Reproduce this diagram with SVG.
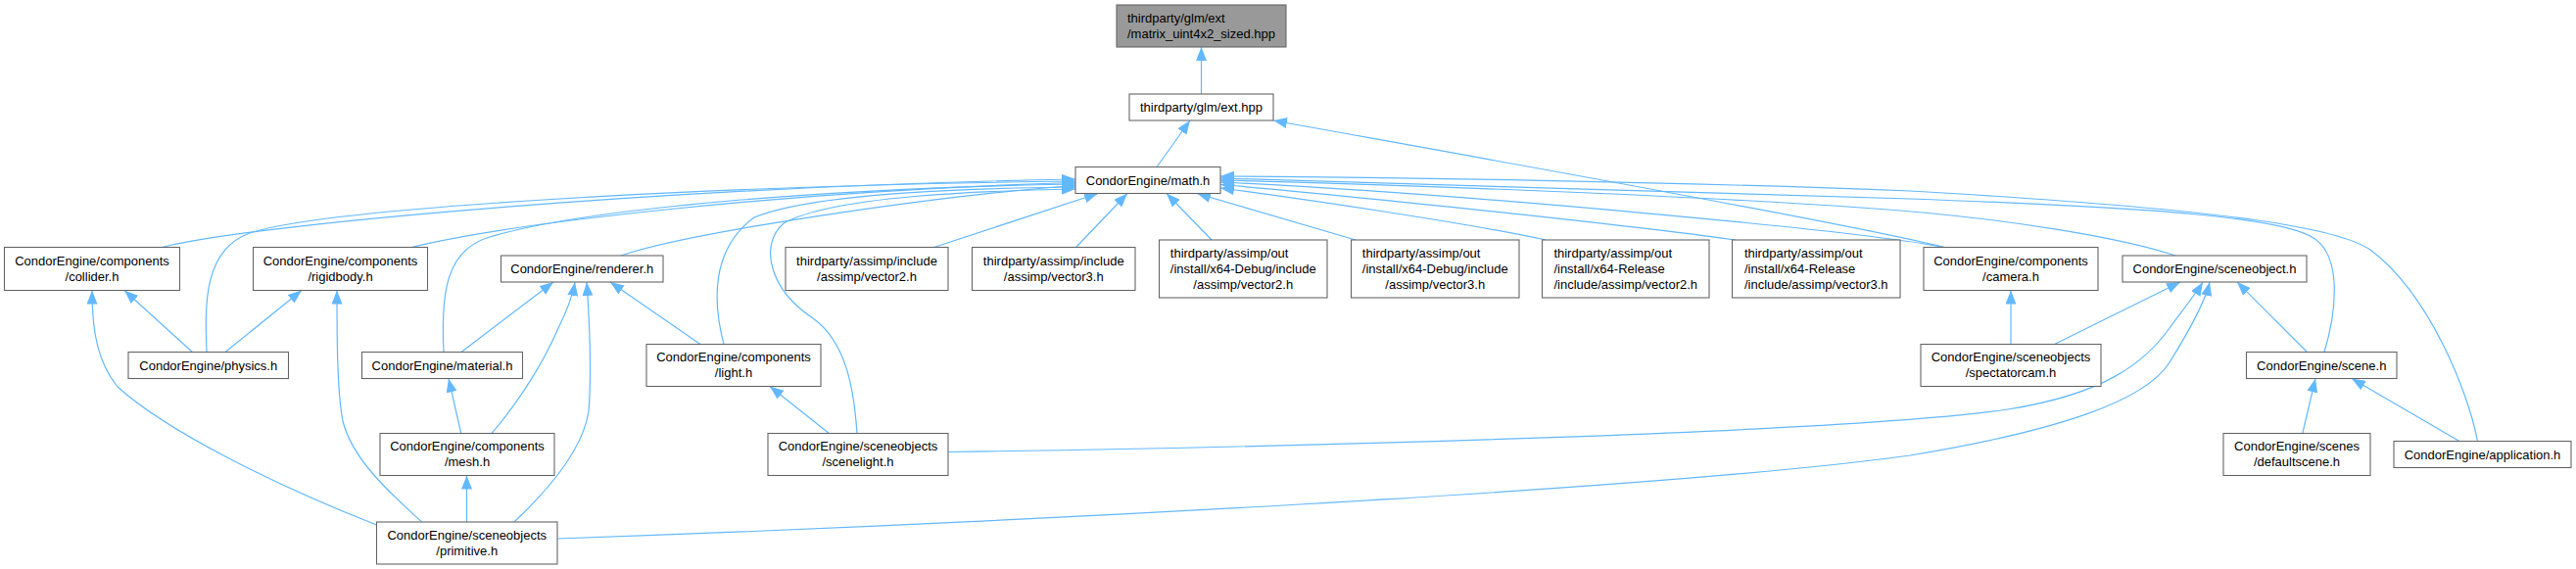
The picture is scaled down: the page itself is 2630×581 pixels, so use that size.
<svg xmlns="http://www.w3.org/2000/svg" width="2630" height="581" viewBox="0 0 2630 581">
<style>
.n rect{fill:#fff;stroke:#666;stroke-width:1.1}
#n1 rect{fill:#999}
text{font-family:"Liberation Sans",Arial,sans-serif;font-size:13px;fill:#000}
.m{text-anchor:middle}
.c path{fill:none;stroke:#63b8ff;stroke-width:1.2;marker-end:url(#a)}
</style>
<defs>
<marker id="a" markerUnits="userSpaceOnUse" markerWidth="14" markerHeight="11" viewBox="0 0 14 11" refX="14" refY="5.5" orient="auto"><path d="M0,0 L14,5.5 L0,11 z" fill="#63b8ff"/></marker>
</defs>
<rect width="2630" height="581" fill="#fff"/>
<g class="c" id="edges">
<path d="M1226.5,96 L1226.5,48"/>
<path d="M1181,170.5 L1215,123"/>
<path d="M1985,252.5 C1880,226 1420,145 1300,123"/>
<path d="M165,252.5 C260,228 700,190 1098,183"/>
<path d="M211,359.5 C209,310 208,255 255,238 C330,213 700,190 1098,185"/>
<path d="M420,252.5 C520,228 800,195 1098,186.5"/>
<path d="M453,359.5 C450,300 455,255 500,242 C600,212 850,192 1098,188"/>
<path d="M634,261 C700,238 950,200 1098,189.5"/>
<path d="M739,351.5 C728,310 725,255 770,222 C830,197 1000,192 1098,191"/>
<path d="M875,442.5 C872,400 865,350 830,325 C785,295 775,250 800,228 C850,200 1000,195 1098,193"/>
<path d="M953.6,252.5 L1121,197.5"/>
<path d="M1098.6,252.5 L1151,197.5"/>
<path d="M1237,245 L1191,197.5"/>
<path d="M1384,245 L1222,197.5"/>
<path d="M1578,245 C1500,228 1330,203 1246,192"/>
<path d="M1772,245 C1650,228 1350,197 1246,188.5"/>
<path d="M1985,252.5 C1900,236 1500,198 1246,186"/>
<path d="M2221,261 C2170,244 2050,222 1900,212 C1700,198 1400,188 1246,184"/>
<path d="M2373,359.5 C2385,320 2392,262 2362,243 C2330,222 2200,212 1950,203 C1650,192 1400,186 1246,182"/>
<path d="M2529.5,450.5 C2520,400 2480,300 2420,255 C2390,235 2300,215 1950,195 C1700,185 1400,181 1246,180"/>
<path d="M196.4,359.5 L127,296.5"/>
<path d="M230,359.5 L308,296.5"/>
<path d="M384.5,536 C280,495 170,440 120,395 C100,370 94,340 94,296.5"/>
<path d="M430.7,533 C400,505 360,470 350,430 C344,400 344,340 344,296.5"/>
<path d="M471,359.5 L565,288"/>
<path d="M502,442.5 C530,410 555,370 570,335 C580,315 585,300 587,288"/>
<path d="M525,533 C560,500 595,460 601,420 C604,380 602,330 599,288"/>
<path d="M715,351.5 L623,288"/>
<path d="M470.7,442.5 L458,386.5"/>
<path d="M476.5,533 L476.5,485.5"/>
<path d="M846.4,442.5 L786,394.5"/>
<path d="M968,461.5 C1400,455 1900,440 2050,418 C2150,402 2190,370 2215,335 C2232,312 2243,298 2249,288"/>
<path d="M569,550 C1000,535 1700,500 1950,465 C2100,440 2190,410 2215,370 C2240,330 2252,305 2256,288"/>
<path d="M2097.5,351.5 L2226,288"/>
<path d="M2053,351.5 L2053,296.5"/>
<path d="M2355.5,359.5 L2284,288"/>
<path d="M2350.8,442.5 L2364,386.5"/>
<path d="M2511,450.5 L2401,386.5"/>
</g>
<g class="n" id="n1"><rect x="1140" y="5" width="173" height="43"/><text x="1151" y="22.5">thirdparty/glm/ext</text><text class="m" x="1226.5" y="38.5">/matrix_uint4x2_sized.hpp</text></g>
<g class="n" id="n2"><rect x="1153" y="96" width="147" height="27"/><text class="m" x="1226.5" y="114">thirdparty/glm/ext.hpp</text></g>
<g class="n" id="n3"><rect x="1098" y="170.5" width="148" height="27"/><text class="m" x="1172" y="188.5">CondorEngine/math.h</text></g>
<g class="n" id="n4"><rect x="4.5" y="252.5" width="179" height="44"/><text class="m" x="94" y="270.5">CondorEngine/components</text><text class="m" x="94" y="286.5">/collider.h</text></g>
<g class="n" id="n5"><rect x="258.5" y="252.5" width="178" height="44"/><text class="m" x="347.5" y="270.5">CondorEngine/components</text><text class="m" x="347.5" y="286.5">/rigidbody.h</text></g>
<g class="n" id="n6"><rect x="511.5" y="261" width="165.5" height="27"/><text class="m" x="594.25" y="279">CondorEngine/renderer.h</text></g>
<g class="n" id="n7"><rect x="802" y="252.5" width="166" height="44"/><text class="m" x="885" y="270.5">thirdparty/assimp/include</text><text class="m" x="885" y="286.5">/assimp/vector2.h</text></g>
<g class="n" id="n8"><rect x="992.5" y="252.5" width="166.5" height="44"/><text class="m" x="1075.75" y="270.5">thirdparty/assimp/include</text><text class="m" x="1075.75" y="286.5">/assimp/vector3.h</text></g>
<g class="n" id="n9"><rect x="1183.5" y="245" width="171.5" height="59"/><text x="1194.8" y="262.5">thirdparty/assimp/out</text><text x="1194.8" y="278.5">/install/x64-Debug/include</text><text class="m" x="1269.25" y="294.5">/assimp/vector2.h</text></g>
<g class="n" id="n10"><rect x="1379.5" y="245" width="171.5" height="59"/><text x="1390.8" y="262.5">thirdparty/assimp/out</text><text x="1390.8" y="278.5">/install/x64-Debug/include</text><text class="m" x="1465.25" y="294.5">/assimp/vector3.h</text></g>
<g class="n" id="n11"><rect x="1574.5" y="245" width="170.5" height="59"/><text x="1586.4" y="262.5">thirdparty/assimp/out</text><text x="1586.4" y="278.5">/install/x64-Release</text><text class="m" x="1659.75" y="294.5">/include/assimp/vector2.h</text></g>
<g class="n" id="n12"><rect x="1768.5" y="245" width="171.5" height="59"/><text x="1780.9" y="262.5">thirdparty/assimp/out</text><text x="1780.9" y="278.5">/install/x64-Release</text><text class="m" x="1854.25" y="294.5">/include/assimp/vector3.h</text></g>
<g class="n" id="n13"><rect x="1964" y="252.5" width="178" height="44"/><text class="m" x="2053" y="270.5">CondorEngine/components</text><text class="m" x="2053" y="286.5">/camera.h</text></g>
<g class="n" id="n14"><rect x="2167" y="261" width="188" height="27"/><text class="m" x="2261" y="279">CondorEngine/sceneobject.h</text></g>
<g class="n" id="n15"><rect x="131" y="359.5" width="163.5" height="27"/><text class="m" x="212.75" y="377.5">CondorEngine/physics.h</text></g>
<g class="n" id="n16"><rect x="369.5" y="359.5" width="164" height="27"/><text class="m" x="451.5" y="377.5">CondorEngine/material.h</text></g>
<g class="n" id="n17"><rect x="660" y="351.5" width="178" height="43"/><text class="m" x="749" y="369">CondorEngine/components</text><text class="m" x="749" y="385">/light.h</text></g>
<g class="n" id="n18"><rect x="1961" y="351.5" width="184" height="43"/><text class="m" x="2053" y="369">CondorEngine/sceneobjects</text><text class="m" x="2053" y="385">/spectatorcam.h</text></g>
<g class="n" id="n19"><rect x="2293.5" y="359.5" width="153.5" height="27"/><text class="m" x="2370.25" y="377.5">CondorEngine/scene.h</text></g>
<g class="n" id="n20"><rect x="388" y="442.5" width="178" height="43"/><text class="m" x="477" y="460">CondorEngine/components</text><text class="m" x="477" y="476">/mesh.h</text></g>
<g class="n" id="n21"><rect x="784" y="442.5" width="184" height="43"/><text class="m" x="876" y="460">CondorEngine/sceneobjects</text><text class="m" x="876" y="476">/scenelight.h</text></g>
<g class="n" id="n22"><rect x="2270" y="442.5" width="150" height="43"/><text class="m" x="2345" y="460">CondorEngine/scenes</text><text class="m" x="2345" y="476">/defaultscene.h</text></g>
<g class="n" id="n23"><rect x="2444" y="450.5" width="181" height="27"/><text class="m" x="2534.5" y="468.5">CondorEngine/application.h</text></g>
<g class="n" id="n24"><rect x="384.5" y="533" width="184.5" height="43"/><text class="m" x="476.75" y="550.5">CondorEngine/sceneobjects</text><text class="m" x="476.75" y="566.5">/primitive.h</text></g>
</svg>
